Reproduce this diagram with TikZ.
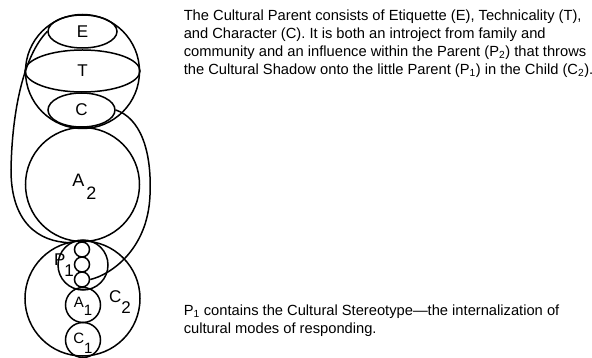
\documentclass[tikz,border=0pt]{standalone}
\usepackage{fontspec}
\setmainfont{Liberation Sans}
\usetikzlibrary{shapes.geometric}

\begin{document}
\begin{tikzpicture}[x=1pt, y=-1pt, line width=1.5pt,
  ring/.style={draw, circle, inner sep=0pt},
  oval/.style={draw, ellipse, inner sep=0pt},
  lbl/.style={font=\fontsize{17}{17}\selectfont},
  note/.style={anchor=north west, align=left, inner sep=0pt, font=\fontsize{14.7}{18}\selectfont}]
\useasboundingbox (0,0) rectangle (592,358);

%Cultural Parent (P2)
\node[ring, minimum size=114pt] (P2) at (82.5,71.5) {};
\node[oval, minimum width=69pt, minimum height=33pt, lbl] (E) at (82.5,31.5) {E};
\node[oval, minimum width=115pt, minimum height=42pt, lbl] (T) at (82.5,71) {T};
\node[oval, minimum width=67pt, minimum height=34pt, lbl] (C) at (81.5,110) {C};

%Adult (A2)
\node[ring, minimum size=114pt, font=\fontsize{18}{18}\selectfont, text height=13pt, text depth=8pt]
  (A2) at (82.5,184.5) {\hspace*{4pt}A\hspace{2pt}\raisebox{-13pt}[0pt][0pt]{2}};

%Child (C2)
\node[ring, minimum size=115pt] (C2) at (82.5,298.5) {};
\node[ring, minimum size=50pt] (P1) at (83,265) {};
\foreach \i/\y in {1/249.5,2/264.5,3/279.5}
  \node[ring, minimum size=15pt] (s\i) at (82,\y) {};
\node[ring, minimum size=35pt, font=\fontsize{15}{15}\selectfont, text height=10pt, text depth=4pt]
  (A1) at (83,305) {A\raisebox{-8pt}[0pt][0pt]{1}\hspace{7pt}};
\node[ring, minimum size=35pt, font=\fontsize{15}{15}\selectfont, text height=10pt, text depth=4pt]
  (C1) at (83,340) {C\raisebox{-10pt}[0pt][0pt]{1}\hspace{7pt}};
\node[font=\fontsize{17}{17}\selectfont, inner sep=0pt] (labP1) at (64,259.5) {P\hspace{-1pt}\raisebox{-11pt}[0pt][0pt]{1}};
\node[lbl, inner sep=0pt] (labC2) at (120,297) {C\raisebox{-11pt}[0pt][0pt]{2}};

%Cultural Shadow lines
\coordinate (bendL) at (11,170);
\coordinate (bendR) at (150,195);
\draw (E.west) .. controls (24,55) and (12,110) .. (bendL)
  .. controls (11,222) and (38,242) .. (P1.120);
\draw (C.east) .. controls (140,118) and (152,150) .. (bendR)
  .. controls (148,250) and (110,275) .. (s3.east);

%texts
\node[note] (note1) at (183,9.3) {The Cultural Parent consists of Etiquette (E), Technicality (T),\\
and Character (C). It is both an introject from family and\\
community and an influence within the Parent (P\textsubscript{2}) that throws\\
the Cultural Shadow onto the little Parent (P\textsubscript{1}) in the Child (C\textsubscript{2}).};
\node[note] (note2) at (183,304.3) {P\textsubscript{1} contains the Cultural Stereotype---the internalization of\\
cultural modes of responding.};
\end{tikzpicture}
\end{document}
